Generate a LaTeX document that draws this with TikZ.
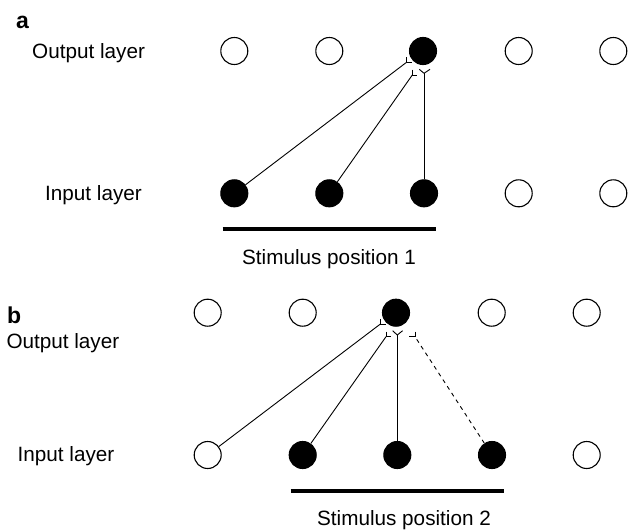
\documentclass[tikz,border=0pt]{standalone}
\usepackage{fontspec}
\setmainfont{Liberation Sans}
\begin{document}
\begin{tikzpicture}[x=1pt,y=-1pt,
 neuron/.style={circle,draw,line width=1.1pt,minimum size=27pt,inner sep=0pt},
 on/.style={neuron,fill=black},
 off/.style={neuron,fill=white},
 conn/.style={line width=0.9pt},
 dconn/.style={line width=0.9pt,dash pattern=on 4pt off 4pt},
 syn/.style={line width=0.9pt},
 lbl/.style={font=\fontsize{20.7}{24}\selectfont,anchor=base west,inner sep=0pt},
 clbl/.style={font=\fontsize{20.7}{24}\selectfont,anchor=base,inner sep=0pt},
 panel/.style={font=\fontsize{23}{26}\selectfont\bfseries,anchor=base west,inner sep=0pt},
 stimbar/.style={line width=4pt,line cap=butt}]
\useasboundingbox (0,0) rectangle (629,530);

% ---------- panel a ----------
\node[panel] (pa) at (16,28) {a};
\node[lbl] (outa) at (32,58.3) {Output layer};
\node[lbl] (ina) at (45,200) {Input layer};

\node[off] (oa1) at (234.3,51) {};
\node[off] (oa2) at (329.3,51) {};
\node[on]  (oa3) at (423,51) {};
\node[off] (oa4) at (518.7,51) {};
\node[off] (oa5) at (613.3,51) {};

\node[on]  (ia1) at (234.3,193.3) {};
\node[on]  (ia2) at (329.3,193.3) {};
\node[on]  (ia3) at (424,193.3) {};
\node[off] (ia4) at (518.7,193.3) {};
\node[off] (ia5) at (613.3,193.3) {};

\coordinate (ta1) at (406,62.7);
\coordinate (ta2) at (412.3,75);
\coordinate (ta3) at (424,73.3);

\draw[conn] (ia1) -- (ta1);
\draw[conn] (ia2) -- (ta2);
\draw[conn] (ia3) -- (ta3);
\draw[syn] (ta1) ++(0,-5.3) -- (ta1) -- ++(5.7,0);
\draw[syn] (ta2) ++(0,-5.5) -- (ta2) -- ++(4.7,0);
\draw[syn] (ta3) -- ++(-4.7,-4) (ta3) -- ++(6,-4);

\coordinate (bal) at (222.7,229.3);
\coordinate (bar) at (436,229.3);
\draw[stimbar] (bal) -- (bar);
\node[clbl] (sa) at (329,264) {Stimulus position 1};

% ---------- panel b ----------
\node[panel] (pb) at (7,323.3) {b};
\node[lbl] (outb) at (6.3,348) {Output layer};
\node[lbl] (inb) at (17.5,461.7) {Input layer};

\node[off] (ob1) at (207.7,312.7) {};
\node[off] (ob2) at (302.7,312.7) {};
\node[on]  (ob3) at (396,312.7) {};
\node[off] (ob4) at (491.7,312.7) {};
\node[off] (ob5) at (586.7,312.7) {};

\node[off] (ib1) at (207.7,455) {};
\node[on]  (ib2) at (302.7,455) {};
\node[on]  (ib3) at (397.3,455) {};
\node[on]  (ib4) at (492,455) {};
\node[off] (ib5) at (586.7,455) {};

\coordinate (tb1) at (380,324.3);
\coordinate (tb2) at (386,336.7);
\coordinate (tb3) at (397.3,335);
\coordinate (tb4) at (415,336.7);

\draw[conn] (ib1) -- (tb1);
\draw[conn] (ib2) -- (tb2);
\draw[conn] (ib3) -- (tb3);
\draw[dconn] (ib4) -- (tb4);
\draw[syn] (tb1) ++(0,-5) -- (tb1) -- ++(6,0);
\draw[syn] (tb2) ++(0,-5) -- (tb2) -- ++(4.7,0);
\draw[syn] (tb3) -- ++(-4.7,-4.3) (tb3) -- ++(5.3,-4.3);
\draw[syn] (tb4) ++(0,-5) -- (tb4) -- ++(-5.7,0);

\coordinate (bbl) at (290.7,490.7);
\coordinate (bbr) at (504,490.7);
\draw[stimbar] (bbl) -- (bbr);
\node[clbl] (sb) at (404,525) {Stimulus position 2};
\end{tikzpicture}
\end{document}
